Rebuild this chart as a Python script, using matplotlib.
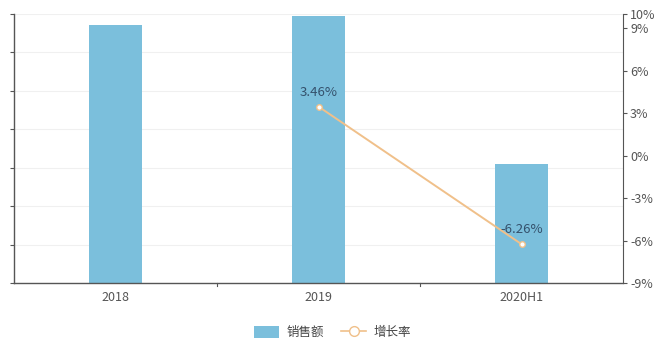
import matplotlib
matplotlib.use("Agg")
import matplotlib.pyplot as plt
from matplotlib.lines import Line2D
from matplotlib.patches import Patch

plt.rcParams['font.family'] = ['Noto Sans CJK SC', 'DejaVu Sans']

categories = ["2018", "2019", "2020H1"]
sales = [6.71, 6.95, 3.10]
growth_cats = ["2019", "2020H1"]
growth = [3.46, -6.26]
right_ticks = [10, 9, 6, 3, 0, -3, -6, -9]

bar_color = "#7bbfdc"
line_color = "#f0c08a"
axis_color = "#555555"

fig = plt.figure(figsize=(6.65, 3.43), dpi=100)
ax = fig.add_axes([0.021, 0.175, 0.916, 0.784])

x = list(range(len(categories)))
ax.bar(x, sales, width=0.26, color=bar_color, zorder=2)
ax.set_xlim(-0.5, len(categories) - 0.5)
ax.set_ylim(0, 7)
ax.set_yticks(range(0, 8))
ax.set_yticklabels([])
ax.grid(axis="y", color="#f0f0f0", linewidth=0.8, zorder=0)
ax.set_xticks(x)
ax.set_xticklabels(categories, color="#555555", fontsize=9)
ax.tick_params(axis="x", length=0, pad=6)
ax.tick_params(axis="y", length=3, color=axis_color, direction="out")
for b in [0.5, 1.5]:
    ax.plot([b, b], [0, -0.08], color=axis_color, lw=0.8, clip_on=False)
ax.spines["top"].set_visible(False)
ax.spines["right"].set_visible(False)
for s in ["left", "bottom"]:
    ax.spines[s].set_color(axis_color)
    ax.spines[s].set_linewidth(1.0)

ax2 = ax.twinx()
gx = [categories.index(c) for c in growth_cats]
ax2.plot(gx, growth, color=line_color, lw=1.4, marker="o", markersize=4,
         markerfacecolor="white", markeredgecolor=line_color, zorder=3)
for xi, v in zip(gx, growth):
    ax2.text(xi, v + 0.55, f"{v:.2f}%", ha="center", va="bottom",
             fontsize=9.5, color="#34506b")
ax2.set_ylim(-9, 10)
ax2.set_yticks(right_ticks)
ax2.set_yticklabels([f"{t}%" for t in right_ticks], color="#555555", fontsize=9)
ax2.tick_params(axis="y", length=3, color=axis_color, pad=2)
ax2.spines["top"].set_visible(False)
ax2.spines["left"].set_visible(False)
ax2.spines["bottom"].set_visible(False)
ax2.spines["right"].set_color(axis_color)

handles = [Patch(facecolor=bar_color, edgecolor="none", label="销售额"),
           Line2D([0], [0], color=line_color, lw=1.2, marker="o", markersize=7,
                  markerfacecolor="white", markeredgecolor=line_color, label="增长率")]
fig.legend(handles=handles, loc="center", bbox_to_anchor=(0.5, 0.03), ncol=2,
           frameon=False, fontsize=9, handlelength=2.0, handleheight=1.1,
           handletextpad=0.6, columnspacing=1.4, labelcolor="#444444")

fig.savefig("out.png", dpi=100)
